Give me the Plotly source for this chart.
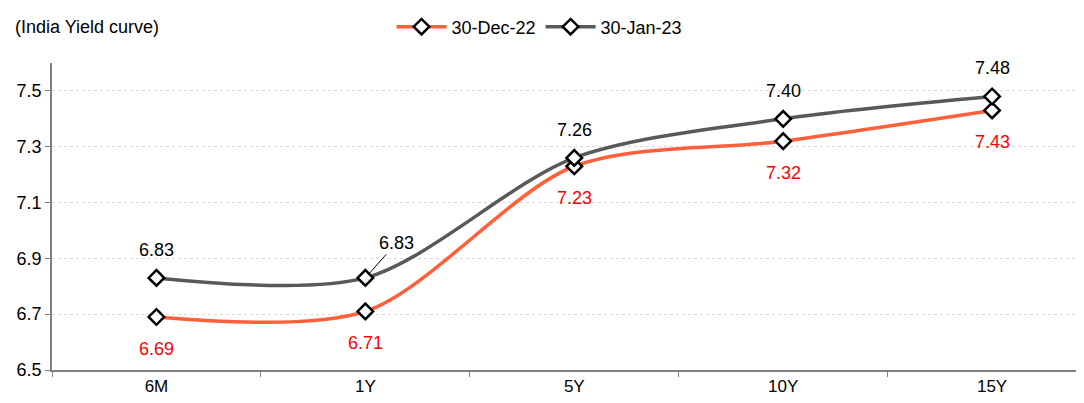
import plotly.graph_objects as go

tenors = ["6M", "1Y", "5Y", "10Y", "15Y"]
dec22 = [6.69, 6.71, 7.23, 7.32, 7.43]
jan23 = [6.83, 6.83, 7.26, 7.40, 7.48]
y_ticks = [6.5, 6.7, 6.9, 7.1, 7.3, 7.5]

ORANGE = "#FF5F3A"
GRAY = "#595959"
FONT = "Liberation Sans, Arial, sans-serif"

fig = go.Figure()
marker = dict(symbol="diamond", size=12, color="white", line=dict(color="black", width=2.5))
fig.add_trace(go.Scatter(x=tenors, y=dec22, name="30-Dec-22", mode="lines+markers",
                         line=dict(color=ORANGE, width=3.5, shape="spline", smoothing=0.85),
                         marker=marker))
fig.add_trace(go.Scatter(x=tenors, y=jan23, name="30-Jan-23", mode="lines+markers",
                         line=dict(color=GRAY, width=3.5, shape="spline", smoothing=0.85),
                         marker=marker))

LBL = 18
ann = []
for i, (t, v) in enumerate(zip(tenors, jan23)):
    if i == 1:
        ann.append(dict(x=t, y=v, text=f"{v:.2f}", showarrow=True, arrowhead=0,
                        arrowwidth=1, arrowcolor="black", ax=31, ay=-35, standoff=4,
                        font=dict(color="black", size=LBL, family=FONT),
                        xanchor="center", yanchor="middle"))
    else:
        ann.append(dict(x=t, y=v, text=f"{v:.2f}", showarrow=False, yshift=28,
                        font=dict(color="black", size=LBL, family=FONT)))
for t, v in zip(tenors, dec22):
    ann.append(dict(x=t, y=v, text=f"{v:.2f}", showarrow=False, yshift=-32,
                    font=dict(color="#FF0000", size=LBL, family=FONT)))
ann.append(dict(xref="paper", yref="paper", x=0, xshift=-39, y=1.0, yshift=36,
                xanchor="left", yanchor="middle", text="(India Yield curve)",
                showarrow=False, font=dict(color="black", size=18, family=FONT)))

fig.update_layout(
    width=1084, height=403,
    margin=dict(l=44, r=8, t=55, b=41),
    paper_bgcolor="white", plot_bgcolor="white",
    font=dict(family=FONT, size=17, color="black"),
    annotations=ann,
    legend=dict(orientation="h", x=0.329, y=1 - 19 / 403, yref="container",
                yanchor="middle", xanchor="left",
                font=dict(size=18, family=FONT), itemwidth=50,
                bgcolor="rgba(0,0,0,0)"),
    xaxis=dict(type="category", range=[-0.5, 4.44], showline=True, linecolor="#808080",
               linewidth=1.5, ticks="outside", tickson="boundaries", ticklen=5,
               tickcolor="#808080", showgrid=False, tickfont=dict(size=17),
               automargin=False),
    yaxis=dict(range=[6.5, 7.6], tickvals=y_ticks, ticktext=[f"{v:.1f}" for v in y_ticks],
               showline=True, linecolor="#808080", linewidth=1.5, ticks="outside",
               ticklen=5, tickcolor="#808080", showgrid=True, gridcolor="#D9D9D9",
               griddash="dot", gridwidth=1, zeroline=False, tickfont=dict(size=18),
               automargin=False),
)

fig.write_html("out.html")
